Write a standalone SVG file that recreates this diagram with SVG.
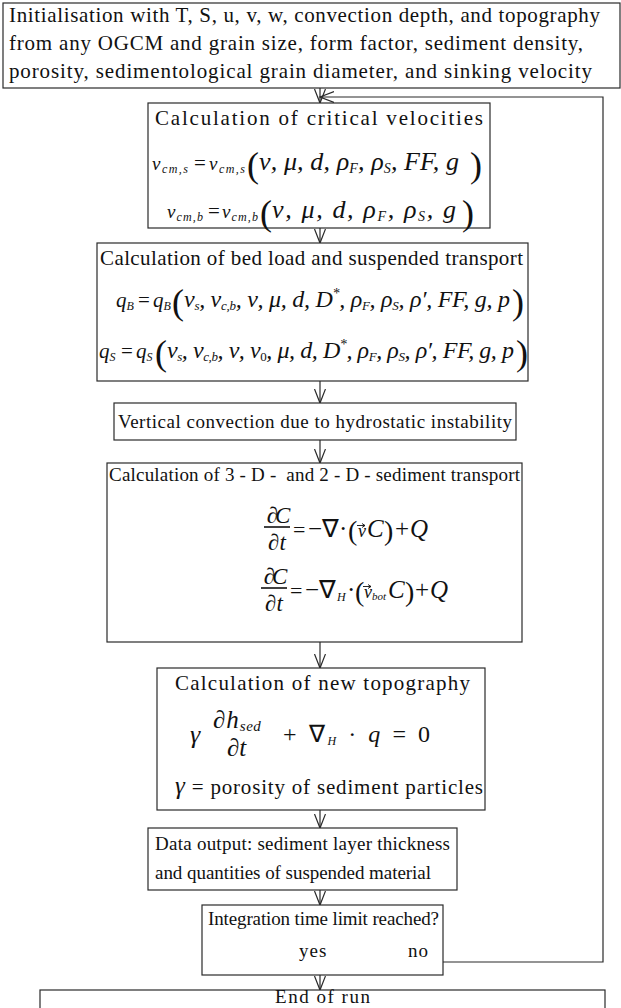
<svg xmlns="http://www.w3.org/2000/svg" width="621" height="1008" viewBox="0 0 621 1008">
<defs>
<style>
.box{fill:#fff;stroke:#2a2a2a;stroke-width:1.2}
.t{font-family:"Liberation Serif","Times New Roman",serif;font-size:21px;fill:#111}
.s{font-family:"Liberation Serif","Times New Roman",serif;font-size:19px;fill:#111}
.m{font-family:"Liberation Serif","Times New Roman",serif;font-style:italic;fill:#111}
.u{font-family:"Liberation Serif","Times New Roman",serif;font-style:normal;fill:#111}
.c{fill:none;stroke:#2a2a2a;stroke-width:1.2}
.bar{stroke:#111;stroke-width:1.6}
.vec{fill:none;stroke:#111;stroke-width:0.9}
</style>
<marker id="ah" markerUnits="userSpaceOnUse" markerWidth="16" markerHeight="13" refX="14" refY="6" orient="auto">
<path d="M0,0.5 L14,6 L0,11.5" fill="none" stroke="#2a2a2a" stroke-width="1.2"/>
</marker>
</defs>
<rect width="621" height="1008" fill="#fff"/>

<g id="connectors">
<line class="c" x1="320" y1="88" x2="320" y2="103" marker-end="url(#ah)"/>
<line class="c" x1="320" y1="228" x2="320" y2="243" marker-end="url(#ah)"/>
<line class="c" x1="320" y1="381" x2="320" y2="403" marker-end="url(#ah)"/>
<line class="c" x1="320" y1="440" x2="320" y2="463" marker-end="url(#ah)"/>
<line class="c" x1="320" y1="642" x2="320" y2="668" marker-end="url(#ah)"/>
<line class="c" x1="320" y1="810" x2="320" y2="828" marker-end="url(#ah)"/>
<line class="c" x1="320" y1="890" x2="320" y2="905" marker-end="url(#ah)"/>
<line class="c" x1="320" y1="975" x2="320" y2="990" marker-end="url(#ah)"/>
<polyline class="c" points="443,962 603,962 603,97 320,97" marker-end="url(#ah)"/>
</g>

<g id="init">
<rect class="box" x="3" y="3" width="617" height="85"/>
<text class="t" x="9" y="22" textLength="591" lengthAdjust="spacing">Initialisation with T, S, u, v, w, convection depth, and topography</text>
<text class="t" x="9" y="50" textLength="574" lengthAdjust="spacing">from any OGCM and grain size, form factor, sediment density,</text>
<text class="t" x="9" y="78" textLength="583" lengthAdjust="spacing">porosity, sedimentological grain diameter, and sinking velocity</text>
</g>

<g id="critical">
<rect class="box" x="148" y="103" width="342" height="125"/>
<text class="t" x="155" y="125" textLength="328" lengthAdjust="spacing">Calculation of critical velocities</text>
<text class="m" x="152" y="170" font-size="19" textLength="36" lengthAdjust="spacing">v<tspan font-size="12" dy="3">cm,s</tspan></text>
<text class="u" x="194" y="170" font-size="21">=</text>
<text class="m" x="209" y="170" font-size="19" textLength="36" lengthAdjust="spacing">v<tspan font-size="12" dy="3">cm,s</tspan></text>
<text class="u" x="247" y="177" font-size="36">(</text>
<text class="m" x="259" y="170" font-size="26" textLength="200" lengthAdjust="spacing">ν, μ, d, ρ<tspan font-size="14" dy="3">F</tspan><tspan dy="-3">, ρ</tspan><tspan font-size="14" dy="3">S</tspan><tspan dy="-3">, FF, g</tspan></text>
<text class="u" x="470" y="177" font-size="36">)</text>
<text class="m" x="167" y="218" font-size="19" textLength="36" lengthAdjust="spacing">v<tspan font-size="12" dy="3">cm,b</tspan></text>
<text class="u" x="208" y="218" font-size="21">=</text>
<text class="m" x="222" y="218" font-size="19" textLength="36" lengthAdjust="spacing">v<tspan font-size="12" dy="3">cm,b</tspan></text>
<text class="u" x="260" y="225" font-size="36">(</text>
<text class="m" x="272" y="218" font-size="26" textLength="184" lengthAdjust="spacing">ν, μ, d, ρ<tspan font-size="14" dy="3">F</tspan><tspan dy="-3">, ρ</tspan><tspan font-size="14" dy="3">S</tspan><tspan dy="-3">, g</tspan></text>
<text class="u" x="462" y="225" font-size="36">)</text>
</g>

<g id="transport">
<rect class="box" x="97" y="243" width="431" height="138"/>
<text class="t" x="100" y="265" textLength="423" lengthAdjust="spacing">Calculation of bed load and suspended transport</text>
<text class="m" x="116" y="307" font-size="21">q<tspan font-size="12" dy="3">B</tspan></text>
<text class="u" x="138" y="307" font-size="21">=</text>
<text class="m" x="153" y="307" font-size="21">q<tspan font-size="12" dy="3">B</tspan></text>
<text class="u" x="172" y="314" font-size="36">(</text>
<text class="m" x="184" y="307" font-size="24" textLength="326" lengthAdjust="spacing">ν<tspan font-size="13" dy="3">s</tspan><tspan dy="-3">, ν</tspan><tspan font-size="13" dy="3">c,b</tspan><tspan dy="-3">, ν, μ, d, D</tspan><tspan font-size="14" dy="-9">*</tspan><tspan dy="9">, ρ</tspan><tspan font-size="13" dy="3">F</tspan><tspan dy="-3">, ρ</tspan><tspan font-size="13" dy="3">S</tspan><tspan dy="-3">, ρ′, FF, g, p</tspan></text>
<text class="u" x="512" y="314" font-size="36">)</text>
<text class="m" x="99" y="358" font-size="21">q<tspan font-size="12" dy="3">S</tspan></text>
<text class="u" x="121" y="358" font-size="21">=</text>
<text class="m" x="136" y="358" font-size="21">q<tspan font-size="12" dy="3">S</tspan></text>
<text class="u" x="155" y="365" font-size="36">(</text>
<text class="m" x="167" y="358" font-size="24" textLength="347" lengthAdjust="spacing">ν<tspan font-size="13" dy="3">s</tspan><tspan dy="-3">, ν</tspan><tspan font-size="13" dy="3">c,b</tspan><tspan dy="-3">, ν, ν</tspan><tspan font-size="13" dy="3" font-style="normal">0</tspan><tspan dy="-3">, μ, d, D</tspan><tspan font-size="14" dy="-9">*</tspan><tspan dy="9">, ρ</tspan><tspan font-size="13" dy="3">F</tspan><tspan dy="-3">, ρ</tspan><tspan font-size="13" dy="3">S</tspan><tspan dy="-3">, ρ′, FF, g, p</tspan></text>
<text class="u" x="516" y="365" font-size="36">)</text>
</g>

<g id="convection">
<rect class="box" x="114" y="403" width="402" height="37"/>
<text class="s" x="118" y="428" textLength="394" lengthAdjust="spacing">Vertical convection due to hydrostatic instability</text>
</g>

<g id="sediment3d">
<rect class="box" x="107" y="463" width="415" height="179"/>
<text class="s" x="109" y="481" textLength="411" lengthAdjust="spacing" xml:space="preserve">Calculation of 3 - D -  and 2 - D - sediment transport</text>
<text class="m" x="277" y="523" font-size="23" text-anchor="middle" letter-spacing="-3">∂C</text>
<line class="bar" x1="264" y1="527" x2="290" y2="527"/>
<text class="m" x="277" y="550" font-size="23" text-anchor="middle">∂t</text>
<text class="u" x="293" y="537" font-size="22">=</text>
<text class="u" x="308" y="537" font-size="25">−∇</text>
<text class="u" x="339" y="537" font-size="25">·</text>
<text class="u" x="348" y="540" font-size="28">(</text>
<text class="m" x="358" y="537" font-size="18">v</text>
<path class="vec" d="M357,525.5 h8 m-3,-2 l3,2 l-3,2"/>
<text class="m" x="367" y="537" font-size="25">C</text>
<text class="u" x="384" y="540" font-size="28">)</text>
<text class="u" x="395" y="537" font-size="25">+</text>
<text class="m" x="410" y="537" font-size="25">Q</text>

<text class="m" x="274" y="584" font-size="23" text-anchor="middle" letter-spacing="-3">∂C</text>
<line class="bar" x1="261" y1="588" x2="287" y2="588"/>
<text class="m" x="274" y="611" font-size="23" text-anchor="middle">∂t</text>
<text class="u" x="290" y="598" font-size="22">=</text>
<text class="u" x="305" y="598" font-size="25">−∇</text>
<text class="m" x="337" y="601" font-size="12">H</text>
<text class="u" x="347" y="598" font-size="25">·</text>
<text class="u" x="355" y="601" font-size="28">(</text>
<text class="m" x="364" y="598" font-size="18">v<tspan font-size="11" dy="2">bot</tspan></text>
<path class="vec" d="M363,586.5 h8 m-3,-2 l3,2 l-3,2"/>
<text class="m" x="388" y="598" font-size="25">C</text>
<text class="u" x="405" y="601" font-size="28">)</text>
<text class="u" x="415" y="598" font-size="25">+</text>
<text class="m" x="430" y="598" font-size="25">Q</text>
</g>

<g id="topography">
<rect class="box" x="157" y="668" width="328" height="142"/>
<text class="t" x="175" y="690" textLength="295" lengthAdjust="spacing">Calculation of new topography</text>
<text class="m" x="190" y="743" font-size="26">γ</text>
<text class="m" x="213" y="728" font-size="25" letter-spacing="1">∂h<tspan font-size="15" dy="3" letter-spacing="0.5">sed</tspan></text>
<text class="m" x="227" y="756" font-size="25">∂t</text>
<text class="u" x="283" y="742" font-size="24" textLength="147" lengthAdjust="spacing">+ ∇<tspan class="m" font-size="12" dy="3">H</tspan><tspan dy="-3"> · </tspan><tspan class="m">q</tspan> = 0</text>
<text class="t" x="175" y="794" font-size="22" textLength="308" lengthAdjust="spacing"><tspan class="m" font-size="25">γ</tspan> = porosity of sediment particles</text>
</g>

<g id="output">
<rect class="box" x="148" y="828" width="309" height="62"/>
<text class="s" x="155" y="850" textLength="295" lengthAdjust="spacing">Data output: sediment layer thickness</text>
<text class="s" x="155" y="879" textLength="276" lengthAdjust="spacing">and quantities of suspended material</text>
</g>

<g id="timelimit">
<rect class="box" x="202" y="905" width="241" height="70"/>
<text class="s" x="208" y="925" font-size="18.5" textLength="231" lengthAdjust="spacing">Integration time limit reached?</text>
<text class="s" x="299" y="957" letter-spacing="1">yes</text>
<text class="s" x="408" y="957" letter-spacing="1">no</text>
</g>

<g id="end">
<rect class="box" x="40" y="990" width="565" height="30"/>
<text class="s" x="275" y="1003" textLength="95" lengthAdjust="spacing">End of run</text>
</g>
</svg>
